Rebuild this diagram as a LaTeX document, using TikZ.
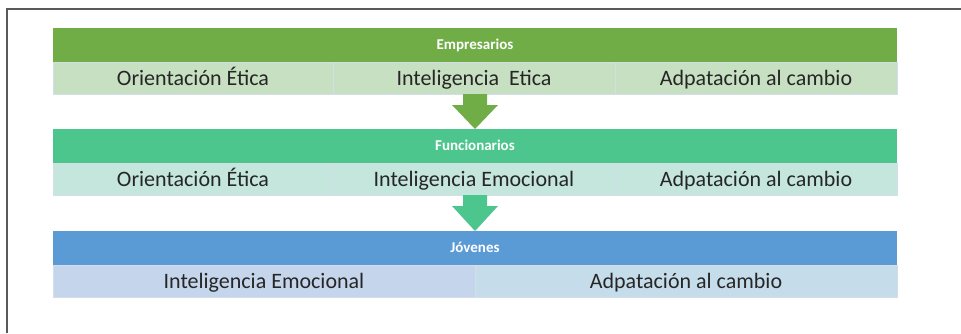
\documentclass[tikz,border=0pt]{standalone}
\usepackage{fontspec}
\setmainfont{Carlito}
\usetikzlibrary{positioning,calc}

\definecolor{verdeA}{HTML}{70AD47}
\definecolor{verdeAc}{HTML}{C7E0C2}
\definecolor{verdeB}{HTML}{4DC68E}
\definecolor{verdeBc}{HTML}{C4E6DC}
\definecolor{azul}{HTML}{5B9BD5}
\definecolor{azulc}{HTML}{C5D5EB}
\definecolor{azulcc}{HTML}{C5DDEA}
\definecolor{celllinea}{HTML}{D4DEE8}
\definecolor{marco}{HTML}{595959}
\definecolor{texto}{HTML}{262626}

\begin{document}
\begin{tikzpicture}[x=1pt, y=-1pt,
  head/.style={rectangle, minimum width=844pt, minimum height=34pt, inner sep=0pt, outer sep=0pt, text=white, text height=10pt, text depth=1pt, font=\fontsize{15}{15}\selectfont\bfseries, anchor=north west},
  cell/.style={rectangle, draw=celllinea, line width=0.8pt, minimum height=32pt, inner sep=0pt, outer sep=0pt, text=texto, text height=15pt, text depth=1pt, font=\fontsize{22}{22}\selectfont, anchor=north west}]
  \useasboundingbox (0,0) rectangle (961,333);
  \draw[marco, line width=1.2pt] (7,333) -- (7,9) -- (961,9);

  % empresarios
  \node[head, fill=verdeA] (e0) at (53,28) {Empresarios};
  \node[cell, fill=verdeAc, minimum width=280pt] (c11) at (e0.south west) {Orientación Ética};
  \node[cell, fill=verdeAc, minimum width=282pt] (c12) at (c11.north east) {Inteligencia\ \ Etica};
  \node[cell, fill=verdeAc, minimum width=282pt] (c13) at (c12.north east) {Adpatación al cambio};

  % funcionarios
  \node[head, fill=verdeB] (e1) at ([yshift=-35pt]c11.south west) {Funcionarios};
  \node[cell, fill=verdeBc, minimum width=280pt] (c21) at (e1.south west) {Orientación Ética};
  \node[cell, fill=verdeBc, minimum width=282pt] (c22) at (c21.north east) {Inteligencia Emocional};
  \node[cell, fill=verdeBc, minimum width=282pt] (c23) at (c22.north east) {Adpatación al cambio};

  % jovenes
  \node[head, fill=azul] (e2) at ([yshift=-36pt]c21.south west) {Jóvenes};
  \node[cell, fill=azulc, minimum width=422pt] (c31) at (e2.south west) {Inteligencia Emocional};
  \node[cell, fill=azulcc, minimum width=422pt] (c32) at (c31.north east) {Adpatación al cambio};

  % flechas
  \coordinate (a1) at (e0.south |- c12.south);
  \coordinate (a2) at (e1.south |- c22.south);
  \foreach \a/\b/\c in {a1/e1/verdeA, a2/e2/verdeB}
    \fill[\c] ([xshift=-12pt]\a) -- ([xshift=-12pt,yshift=-11pt]\a) -- ([xshift=-23pt,yshift=-11pt]\a)
      -- (\b.north) -- ([xshift=23pt,yshift=-11pt]\a) -- ([xshift=12pt,yshift=-11pt]\a) -- ([xshift=12pt]\a) -- cycle;
\end{tikzpicture}
\end{document}
